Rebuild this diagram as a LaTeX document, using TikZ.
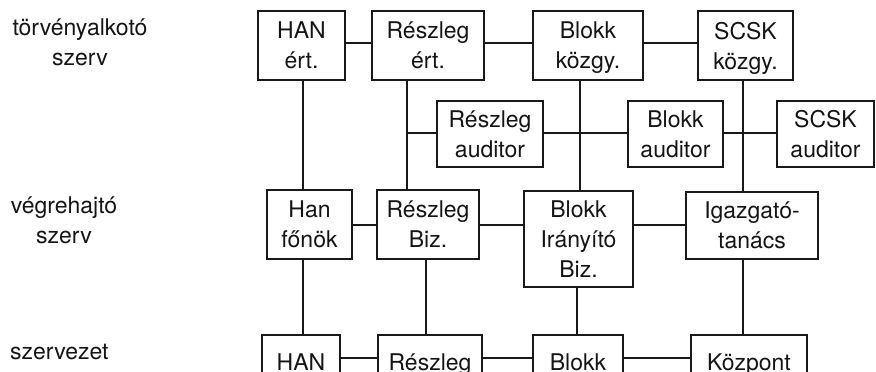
\documentclass[tikz,border=0pt]{standalone}
\usepackage{fontspec}
\setmainfont{TeX Gyre Heros}
\begin{document}
\begin{tikzpicture}[x=1pt,y=-1pt,
  every node/.style={font=\fontsize{23}{30}\selectfont, text=black!92},
  box/.style={draw=black!90, line width=2.6pt, inner sep=0pt, align=center, text depth=0pt},
  conn/.style={draw=black!90, line width=2.2pt},
  lbl/.style={align=center, inner sep=0pt, anchor=base}]
\useasboundingbox (0,0) rectangle (876,372);
\clip (0,0) rectangle (876,372);
% column and row guides
\coordinate (c1) at (303,0);
\coordinate (c2) at (407,0);
\coordinate (c2b) at (426,0);
\coordinate (c3) at (580,0);
\coordinate (c3b) at (577,0);
\coordinate (c4) at (743,0);
\coordinate (r1) at (0,43);
\coordinate (r2) at (0,225);
\coordinate (r3) at (0,358);
\coordinate (r4) at (0,133);
% left labels
\node[lbl] (l1) at (80,65) {törvényalkotó\\szerv};
\node[lbl] (l2) at (64,243) {végrehajtó\\szerv};
\node[lbl, anchor=base west] (l3) at (10,359) {szervezet};
% top row
\node[box, minimum width=87pt, minimum height=69pt] (hanert) at (301.5,45.5) {HAN\\ért.};
\node[box, minimum width=112pt, minimum height=69pt] (reszert) at (428,45.5) {Részleg\\ért.};
\node[box, minimum width=110pt, minimum height=69pt] (blokkkoz) at (588,45.5) {Blokk\\közgy.};
\node[box, minimum width=95pt, minimum height=69pt] (scskkoz) at (745.5,45.5) {SCSK\\közgy.};
% auditors
\node[box, minimum width=106pt, minimum height=66pt] (reszaud) at (490,134) {Részleg\\auditor};
\node[box, minimum width=95pt, minimum height=66pt] (blokkaud) at (675.5,134) {Blokk\\auditor};
\node[box, minimum width=97pt, minimum height=66pt] (scskaud) at (825.5,134) {SCSK\\auditor};
% executive row
\node[box, minimum width=85pt, minimum height=69pt] (hanfo) at (309.5,224.5) {Han\\főnök};
\node[box, minimum width=102pt, minimum height=69pt] (reszbiz) at (428,224.5) {Részleg\\Biz.};
\node[box, minimum width=109pt, minimum height=96pt] (iranyito) at (578.5,239) {Blokk\\Irányító\\Biz.};
\node[box, minimum width=132pt, minimum height=67pt] (igaz) at (752,225.5) {Igazgató-\\tanács};
% organisation row
\node[box, minimum width=78pt, minimum height=54pt] (han2) at (301,362) {HAN};
\node[box, minimum width=104pt, minimum height=54pt] (resz2) at (430,362) {Részleg};
\node[box, minimum width=90pt, minimum height=54pt] (blokk2) at (578,362) {Blokk};
\node[box, minimum width=116pt, minimum height=54pt] (kozp) at (749,362) {Központ};
% horizontal connectors
\draw[conn] (hanert.east |- r1) -- (reszert.west |- r1);
\draw[conn] (reszert.east |- r1) -- (blokkkoz.west |- r1);
\draw[conn] (blokkkoz.east |- r1) -- (scskkoz.west |- r1);
\draw[conn] (hanfo.east |- r2) -- (reszbiz.west |- r2);
\draw[conn] (reszbiz.east |- r2) -- (iranyito.west |- r2);
\draw[conn] (iranyito.east |- r2) -- (igaz.west |- r2);
\draw[conn] (han2.east |- r3) -- (resz2.west |- r3);
\draw[conn] (resz2.east |- r3) -- (blokk2.west |- r3);
\draw[conn] (blokk2.east |- r3) -- (kozp.west |- r3);
\draw[conn] (c2 |- r4) -- (reszaud.west |- r4);
\draw[conn] (reszaud.east |- r4) -- (blokkaud.west |- r4);
\draw[conn] (blokkaud.east |- r4) -- (scskaud.west |- r4);
% vertical connectors
\draw[conn] (c1 |- hanert.south) -- (c1 |- hanfo.north);
\draw[conn] (c1 |- hanfo.south) -- (c1 |- han2.north);
\draw[conn] (c2 |- reszert.south) -- (c2 |- reszbiz.north);
\draw[conn] (c2b |- reszbiz.south) -- (c2b |- resz2.north);
\draw[conn] (c3 |- blokkkoz.south) -- (c3 |- iranyito.north);
\draw[conn] (c3b |- iranyito.south) -- (c3b |- blokk2.north);
\draw[conn] (c4 |- scskkoz.south) -- (c4 |- igaz.north);
\draw[conn] (c4 |- igaz.south) -- (c4 |- kozp.north);
\end{tikzpicture}
\end{document}
